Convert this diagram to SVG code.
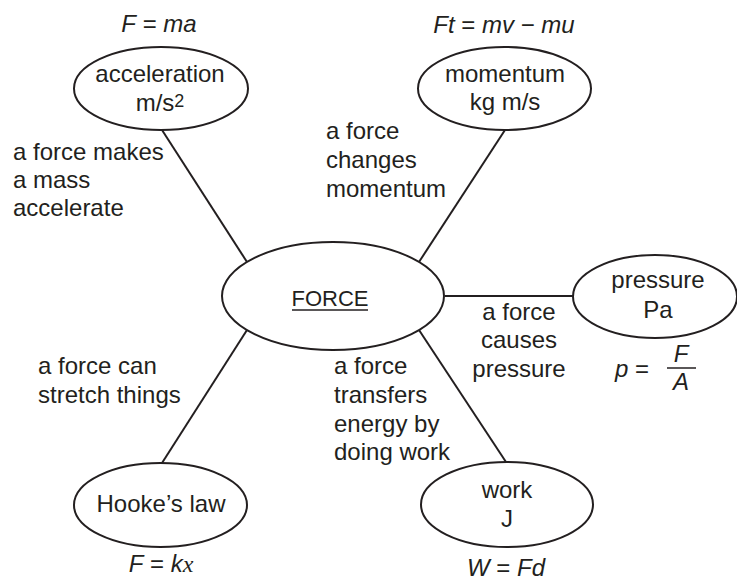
<svg xmlns="http://www.w3.org/2000/svg" width="737" height="581" viewBox="0 0 737 581">
<style>
text{font-family:"Liberation Sans",Arial,sans-serif;font-size:24px;fill:#231f20}
.c{text-anchor:middle}
.i{font-style:italic}
.node{fill:#fff;stroke:#231f20;stroke-width:2}
.link{stroke:#231f20;stroke-width:2;fill:none}
</style>
<rect width="737" height="581" fill="#fff"/>
<g id="connectors">
<line class="link" x1="162" y1="130" x2="247" y2="262"/>
<line class="link" x1="505" y1="130" x2="419" y2="262"/>
<line class="link" x1="445" y1="296" x2="573" y2="296"/>
<line class="link" x1="247" y1="330" x2="162" y2="463"/>
<line class="link" x1="419" y1="330" x2="506" y2="462"/>
</g>
<g id="force">
<ellipse class="node" cx="333" cy="296" rx="111" ry="54"/>
<text class="c" x="330" y="306" style="font-size:22px">FORCE</text>
<line x1="292" y1="310" x2="368" y2="310" stroke="#231f20" stroke-width="1.5"/>
</g>
<g id="acceleration">
<ellipse class="node" cx="161" cy="88.5" rx="87" ry="41.5"/>
<text class="c" x="160" y="82">acceleration</text>
<text class="c" x="160" y="111">m/s<tspan dy="-4" style="font-size:18px">2</tspan></text>
<text class="c" x="159" y="32"><tspan class="i">F</tspan> = <tspan class="i">ma</tspan></text>
</g>
<g id="momentum">
<ellipse class="node" cx="504.5" cy="88.5" rx="86.5" ry="41.5"/>
<text class="c" x="505" y="82">momentum</text>
<text class="c" x="505" y="110">kg m/s</text>
<text class="c" x="504" y="33"><tspan class="i">Ft</tspan> = <tspan class="i">mv</tspan> − <tspan class="i">mu</tspan></text>
</g>
<g id="pressure">
<ellipse class="node" cx="655" cy="296.5" rx="82" ry="41.5"/>
<text class="c" x="658" y="288">pressure</text>
<text class="c" x="658" y="318">Pa</text>
<text x="615" y="377"><tspan class="i">p</tspan> =</text>
<line x1="667" y1="368" x2="696" y2="368" stroke="#231f20" stroke-width="1.5"/>
<text class="c i" x="681" y="362">F</text>
<text class="c i" x="681" y="390">A</text>
</g>
<g id="work">
<ellipse class="node" cx="507" cy="504.5" rx="86" ry="42.5"/>
<text class="c" x="507" y="498">work</text>
<text class="c" x="507" y="527">J</text>
<text class="c" x="506" y="576"><tspan class="i">W</tspan> = <tspan class="i">Fd</tspan></text>
</g>
<g id="hookes-law">
<ellipse class="node" cx="160.5" cy="505" rx="86.5" ry="42"/>
<text class="c" x="161" y="512">Hooke’s law</text>
<text class="c" x="161" y="572"><tspan class="i">F</tspan> = <tspan class="i">k</tspan><tspan style="font-family:'Liberation Serif',serif;font-style:italic">x</tspan></text>
</g>
<g id="labels">
<text x="13" y="160">a force makes</text>
<text x="13" y="188">a mass</text>
<text x="13" y="216">accelerate</text>
<text x="326" y="139">a force</text>
<text x="326" y="168">changes</text>
<text x="326" y="197">momentum</text>
<text class="c" x="519" y="320">a force</text>
<text class="c" x="519" y="348">causes</text>
<text class="c" x="519" y="377">pressure</text>
<text x="38" y="374">a force can</text>
<text x="38" y="403">stretch things</text>
<text x="334" y="374">a force</text>
<text x="334" y="403">transfers</text>
<text x="334" y="432">energy by</text>
<text x="334" y="460">doing work</text>
</g>
</svg>
